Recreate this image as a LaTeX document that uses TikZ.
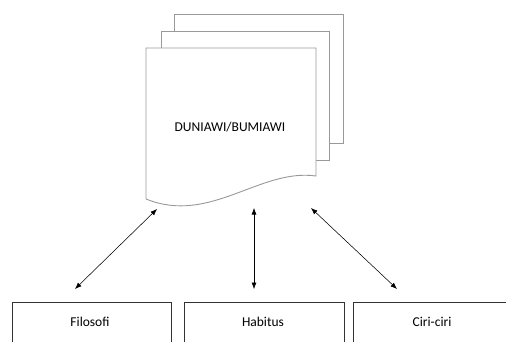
\documentclass[tikz,border=0pt]{standalone}
\usepackage{fontspec}
\setmainfont{Carlito}
\usetikzlibrary{arrows.meta}
\begin{document}
\begin{tikzpicture}[x=1pt,y=-1pt,
  page/.style={draw=black!40,line width=0.9pt,fill=white},
  boxline/.style={draw=black!80,line width=0.7pt},
  lbl/.style={font=\fontsize{13.5}{16}\selectfont,inner sep=0pt},
  link/.style={line width=0.55pt,{Latex[length=6.5pt,width=5pt]}-{Latex[length=6.5pt,width=5pt]}}]
\useasboundingbox (0,0) rectangle (506,341);
% stacked pages
\path[page] (174,14) rectangle (343,143);
\path[page] (161,31) rectangle (329,160);
\path[page] (146,199) -- (146,48) -- (316,48) -- (316,176)
  .. controls (260,168) and (210,225) .. (146,199);
\node[lbl] (doc) at (230,127.5) {DUNIAWI/BUMIAWI};
% bottom boxes (cut off at the lower edge)
\draw[boxline] (12,342) -- (12,302) -- (171,302) -- (171,342);
\draw[boxline] (184,342) -- (184,302) -- (344,302) -- (344,342);
\draw[boxline] (353,342) -- (353,302) -- (508,302);
\node[lbl] (fil) at (90,322) {Filosofi};
\node[lbl] (hab) at (263,322) {Habitus};
\node[lbl] (ciri) at (432,322) {Ciri-ciri};
% connector endpoints
\coordinate (d1) at (157,209);
\coordinate (d2) at (254,208);
\coordinate (d3) at (311,208);
\coordinate (b1) at (75,289);
\coordinate (b2) at (254,289);
\coordinate (b3) at (397,289);
\draw[link] (d1) -- (b1);
\draw[link] (d2) -- (b2);
\draw[link] (d3) -- (b3);
\end{tikzpicture}
\end{document}
